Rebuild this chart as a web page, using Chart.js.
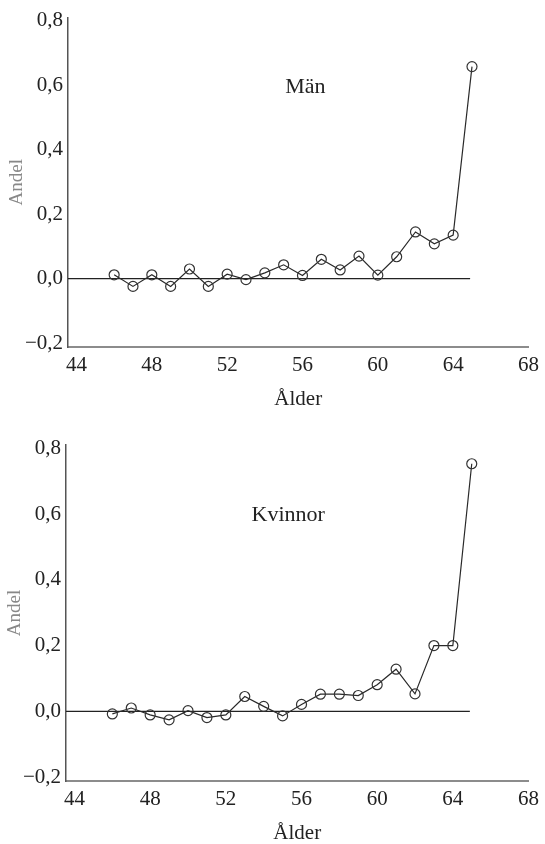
<!DOCTYPE html>
<html>
<head>
<meta charset="utf-8">
<script src="https://cdn.jsdelivr.net/npm/chart.js@4/dist/chart.umd.min.js"></script>
<style>
  html, body { margin: 0; padding: 0; background: #fff; }
  .box { width: 545px; height: 422px; position: relative; }
</style>
</head>
<body>
<div class="box"><canvas id="menChart"></canvas></div>
<div class="box"><canvas id="womenChart"></canvas></div>
<script>
const ages = [46, 47, 48, 49, 50, 51, 52, 53, 54, 55, 56, 57, 58, 59, 60, 61, 62, 63, 64, 65];
const menShare = [0.012, -0.024, 0.012, -0.024, 0.030, -0.024, 0.014, -0.003, 0.018, 0.043,
  0.010, 0.060, 0.027, 0.070, 0.011, 0.068, 0.145, 0.108, 0.135, 0.658];
const womenShare = [-0.008, 0.010, -0.011, -0.026, 0.002, -0.019, -0.011, 0.045, 0.015, -0.014,
  0.021, 0.052, 0.052, 0.048, 0.081, 0.128, 0.053, 0.200, 0.200, 0.753];
const xTicks = [44, 48, 52, 56, 60, 64, 68];
const yTicks = [-0.2, 0, 0.2, 0.4, 0.6, 0.8];
const zeroLineX = [43.5, 64.9];

const serif = "'Liberation Serif', 'DejaVu Serif', serif";

function fmt(v) {
  return v.toFixed(1).replace(".", ",").replace("-", "\u2212");
}

const groupLabel = {
  id: "groupLabel",
  afterDatasetsDraw(chart, args, opts) {
    const { ctx, scales } = chart;
    ctx.save();
    ctx.font = "22px " + serif;
    ctx.fillStyle = "#222";
    ctx.textAlign = "center";
    ctx.textBaseline = "middle";
    ctx.fillText(opts.text, scales.x.getPixelForValue(opts.x), scales.y.getPixelForValue(opts.y));
    ctx.restore();
  }
};

function drawPanel(id, values, label, layout) {
  const ctx = document.getElementById(id);

  return new Chart(ctx, {
    type: "line",
    data: {
      datasets: [
        {
          data: ages.map((a, i) => ({ x: a, y: values[i] })),
          borderColor: "#2a2a2a",
          borderWidth: 1.2,
          tension: 0,
          pointRadius: 5,
          pointBorderWidth: 1.2,
          pointBorderColor: "#333",
          pointBackgroundColor: "rgba(255,255,255,0)",
          order: 0
        },
        {
          data: zeroLineX.map(x => ({ x, y: 0 })),
          borderColor: "#222",
          borderWidth: 1.2,
          pointRadius: 0,
          order: 1
        }
      ]
    },
    options: {
      responsive: true,
      maintainAspectRatio: false,
      animation: false,
      layout: {
        padding: { top: layout.top, right: layout.right, left: 0, bottom: 0 }
      },
      plugins: {
        legend: { display: false },
        tooltip: { enabled: false },
        groupLabel: { text: label.text, x: label.x, y: label.y }
      },
      scales: {
        x: {
          type: "linear",
          min: 43.55,
          max: 68,
          afterBuildTicks: s => { s.ticks = xTicks.map(v => ({ value: v })); },
          afterFit: s => { s.height = layout.xHeight; },
          grid: { display: false, drawTicks: false },
          border: { display: true, color: "#8c8c8c", width: 2 },
          ticks: {
            padding: 6,
            color: "#222",
            font: { family: serif, size: 21 },
            callback: v => String(v)
          },
          title: {
            display: true,
            text: "Ålder",
            color: "#222",
            font: { family: serif, size: 21, lineHeight: 1 },
            padding: { top: 0, bottom: layout.titlePad }
          }
        },
        y: {
          min: -0.212,
          max: 0.81,
          afterBuildTicks: s => { s.ticks = yTicks.map(v => ({ value: v })); },
          afterFit: s => { s.width = layout.left; },
          grid: { display: false, drawTicks: false },
          border: { display: true, color: "#555", width: 1.5 },
          ticks: {
            padding: 5,
            color: "#222",
            font: { family: serif, size: 21 },
            callback: v => fmt(v)
          },
          title: {
            display: true,
            text: "Andel",
            color: "#888",
            font: { family: serif, size: 19, lineHeight: 1.2 },
            padding: { top: layout.yTitlePad, bottom: 0 }
          }
        }
      }
    },
    plugins: [groupLabel]
  });
}

drawPanel("menChart", menShare, { text: "Män", x: 56.15, y: 0.594 },
  { top: 15, right: 13, left: 68, xHeight: 75, titlePad: 12, yTitlePad: 5.6 });
drawPanel("womenChart", womenShare, { text: "Kvinnor", x: 55.3, y: 0.596 },
  { top: 23, right: 15, left: 66, xHeight: 63, titlePad: 0, yTitlePad: 3.6 });
</script>
</body>
</html>
